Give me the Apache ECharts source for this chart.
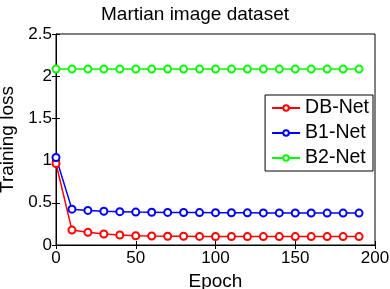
<!DOCTYPE html>
<html>
<head>
<meta charset="utf-8">
<script src="https://cdn.jsdelivr.net/npm/echarts@6/dist/echarts.min.js"></script>
<style>
html,body{margin:0;padding:0;background:#fff;}
#c{width:390px;height:289px;}
</style>
</head>
<body>
<div id="c"></div>
<script>
const epochs = [0,10,20,30,40,50,60,70,80,90,100,110,120,130,140,150,160,170,180,190];
const dbNet = [0.966,0.177,0.15,0.13,0.118,0.11,0.106,0.104,0.103,0.102,0.101,0.101,0.1,0.1,0.1,0.1,0.1,0.1,0.1,0.1];
const b1Net = [1.037,0.425,0.41,0.40,0.395,0.39,0.388,0.386,0.385,0.384,0.383,0.382,0.381,0.380,0.380,0.379,0.379,0.378,0.378,0.378];
const b2Net = [2.084,2.084,2.084,2.084,2.084,2.084,2.084,2.084,2.084,2.084,2.084,2.084,2.084,2.084,2.084,2.084,2.084,2.084,2.084,2.084];
const seriesNames = ['DB-Net','B1-Net','B2-Net'];
const colors = ['#ff0000','#0000ff','#00ff00'];
const titleText = 'Martian image dataset';
const xName = 'Epoch';
const yName = 'Training loss';

const font = 'Liberation Sans, Arial, Helvetica, sans-serif';
const chart = echarts.init(document.getElementById('c'));
const mk = (name, data, color) => ({
  name, type:'line', data: epochs.map((e,i)=>[e,data[i]]),
  symbol:'emptyCircle', symbolSize:7, showSymbol:true,
  lineStyle:{color, width:1.5}, itemStyle:{color, borderWidth:1.3},
  emphasis:{disabled:true}, animation:false, z:3
});
const axisCommon = {
  axisLine:{lineStyle:{color:'#000', width:1}},
  axisTick:{inside:true, length:4, lineStyle:{color:'#000'}},
  splitLine:{show:false}
};
chart.setOption({
  animation:false,
  title:{text:titleText, left:'center', top:0, textStyle:{fontFamily:font, fontSize:19, fontWeight:'normal', color:'#000'}},
  grid:{left:56, right:15, top:34, bottom:44, show:true, borderColor:'#000', borderWidth:1, containLabel:false, outerBoundsMode:'none'},
  legend:{
    data:seriesNames, orient:'vertical', right:17, top:95,
    backgroundColor:'#fff', borderColor:'#000', borderWidth:1, padding:[3,4,3,6],
    itemWidth:28, itemHeight:7, itemGap:5,
    textStyle:{fontFamily:font, fontSize:19.5, color:'#000'}
  },
  xAxis:[
    Object.assign({type:'value', min:0, max:200, interval:50, position:'bottom',
      name:xName, nameLocation:'middle', nameGap:25,
      nameTextStyle:{fontFamily:font, fontSize:19, color:'#000'},
      axisLabel:{fontFamily:font, fontSize:17, color:'#000', margin:5}}, axisCommon),
    Object.assign({type:'value', min:0, max:200, interval:50, position:'top', axisLabel:{show:false}}, axisCommon)
  ],
  yAxis:[
    Object.assign({type:'value', min:0, max:2.5, interval:0.5, position:'left',
      name:yName, nameLocation:'middle', nameGap:35,
      nameTextStyle:{fontFamily:font, fontSize:19, color:'#000'},
      axisLabel:{fontFamily:font, fontSize:17, color:'#000', margin:4}}, axisCommon),
    Object.assign({type:'value', min:0, max:2.5, interval:0.5, position:'right', axisLabel:{show:false}}, axisCommon)
  ],
  series:[mk(seriesNames[0], dbNet, colors[0]), mk(seriesNames[1], b1Net, colors[1]), mk(seriesNames[2], b2Net, colors[2])]
});
</script>
</body>
</html>
